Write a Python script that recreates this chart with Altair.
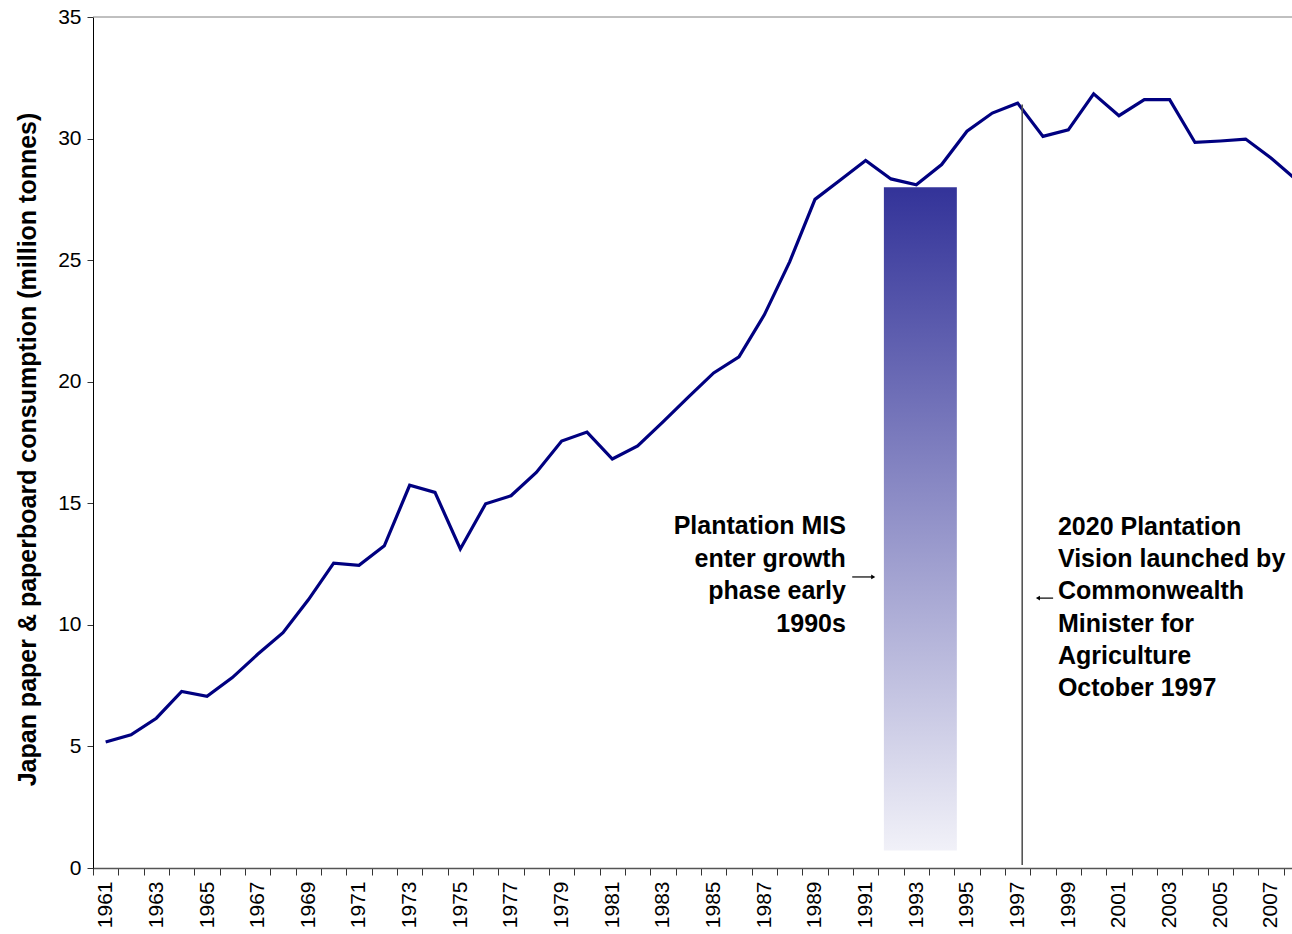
import altair as alt
import pandas as pd

# ---- data ----
years = list(range(1961, 2009))
consumption = [5.18, 5.48, 6.16, 7.26, 7.06, 7.83, 8.79, 9.68, 11.03, 12.54,
               12.45, 13.25, 15.74, 15.45, 13.12, 14.98, 15.31, 16.27, 17.56, 17.93,
               16.82, 17.36, 18.35, 19.37, 20.36, 21.02, 22.75, 24.93, 27.5, 28.3,
               29.1, 28.34, 28.1, 28.93, 30.3, 31.05, 31.46, 30.09, 30.36, 31.84,
               30.94, 31.6, 31.6, 29.84, 29.9, 29.98, 29.2, 28.3]

y_ticks = [0, 5, 10, 15, 20, 25, 30, 35]
x_tick_positions = [y - 0.5 for y in range(1961, 2009)]

band_start = [1991.72]
band_end = [1994.6]
band_top = [28.0]
band_bottom = [0.72]

vision_x = [1997.18]
vision_y_low = [0.12]
vision_y_high = [31.4]

label_left = "Plantation MIS\nenter growth\nphase early\n1990s"
label_right = "2020 Plantation\nVision launched by\nCommonwealth\nMinister for\nAgriculture\nOctober 1997"
label_left_pos = [1990.22, 13.72]
label_right_pos = [1998.59, 13.70]

arrow1 = [1990.47, 1991.30, 11.97]
arrow2 = [1998.40, 1997.80, 11.10]

FONT = "Liberation Sans"
xscale = alt.Scale(domain=[1960.5, 2007.83], nice=False, zero=False)
yscale = alt.Scale(domain=[0, 35], nice=False, zero=True)

df = pd.DataFrame({"year": years, "value": consumption})

x_axis = alt.Axis(
    values=x_tick_positions,
    labelExpr="(datum.value + 0.5) % 2 == 1 ? format(datum.value + 0.5, 'd') : ''",
    labelAngle=-90, labelOffset=12.67, labelOverlap=False, labelFlush=False,
    labelBound=False, labelFontSize=21, labelFont=FONT, labelColor="black",
    labelPadding=6, tickSize=7, tickColor="#333333", domainColor="#555555",
    domainWidth=1.5, grid=False, title=None,
)
y_axis = alt.Axis(
    values=y_ticks, labelFontSize=21, labelFont=FONT, labelColor="black",
    labelPadding=6, tickSize=6, tickColor="#333333", domainColor="black",
    grid=False, title="Japan paper & paperboard consumption (million tonnes)",
    titleFont=FONT, titleFontSize=25, titleFontWeight="bold", titleColor="black",
    titleX=-66, titleY=432, titleAlign="center", titleBaseline="middle", titleAngle=-90,
)


def X(field):
    return alt.X(field, scale=xscale, axis=x_axis)


def Y(field):
    return alt.Y(field, scale=yscale, axis=y_axis)


line = alt.Chart(df).mark_line(color="#000080", strokeWidth=3.2, clip=True).encode(
    x=X("year:Q"), y=Y("value:Q"),
)

top_border = alt.Chart(pd.DataFrame({"y": [35]})).mark_rule(color="#808080", strokeWidth=1).encode(
    y=Y("y:Q")
)

band_df = pd.DataFrame({"x": band_start, "x2": band_end, "y": band_top, "y2": band_bottom})
band = alt.Chart(band_df).mark_rect(
    color=alt.Gradient(
        gradient="linear",
        stops=[alt.GradientStop(color="#333399", offset=0),
               alt.GradientStop(color="#f1f1f8", offset=1)],
        x1=0, x2=0, y1=0, y2=1,
    )
).encode(x=X("x:Q"), x2="x2:Q", y=Y("y:Q"), y2="y2:Q")

vision_df = pd.DataFrame({"x": vision_x, "y": vision_y_low, "y2": vision_y_high})
vision = alt.Chart(vision_df).mark_rule(color="#555555", strokeWidth=1.6).encode(
    x=X("x:Q"), y=Y("y:Q"), y2="y2:Q",
)

t1 = alt.Chart(pd.DataFrame({"x": [label_left_pos[0]], "y": [label_left_pos[1]], "t": [label_left]})).mark_text(
    align="right", baseline="alphabetic", font=FONT, fontSize=25, fontWeight="bold",
    lineBreak="\n", lineHeight=32.5, color="black",
).encode(x=X("x:Q"), y=Y("y:Q"), text="t:N")

t2 = alt.Chart(pd.DataFrame({"x": [label_right_pos[0]], "y": [label_right_pos[1]], "t": [label_right]})).mark_text(
    align="left", baseline="alphabetic", font=FONT, fontSize=25, fontWeight="bold",
    lineBreak="\n", lineHeight=32.3, color="black",
).encode(x=X("x:Q"), y=Y("y:Q"), text="t:N")

arrows_df = pd.DataFrame({
    "x": [arrow1[0], arrow2[0]], "x2": [arrow1[1], arrow2[1]], "y": [arrow1[2], arrow2[2]],
    "shape": ["triangle-right", "triangle-left"],
})
arrow_lines = alt.Chart(arrows_df).mark_rule(color="black", strokeWidth=1.2).encode(
    x=X("x:Q"), x2="x2:Q", y=Y("y:Q"),
)
arrow_heads = alt.Chart(arrows_df).mark_point(filled=True, color="black", size=22, opacity=1).encode(
    x=X("x2:Q"), y=Y("y:Q"),
    shape=alt.Shape("shape:N", scale=None, legend=None),
)

chart = alt.layer(line, band, vision, top_border, t1, t2, arrow_lines, arrow_heads).properties(
    width=1199, height=851,
    autosize=alt.AutoSizeParams(type="none"),
    padding={"left": 93, "top": 17, "right": 0, "bottom": 66},
    background="white",
).configure_view(stroke=None)

chart.save("out.html", embed_options={"renderer": "svg", "actions": False})
